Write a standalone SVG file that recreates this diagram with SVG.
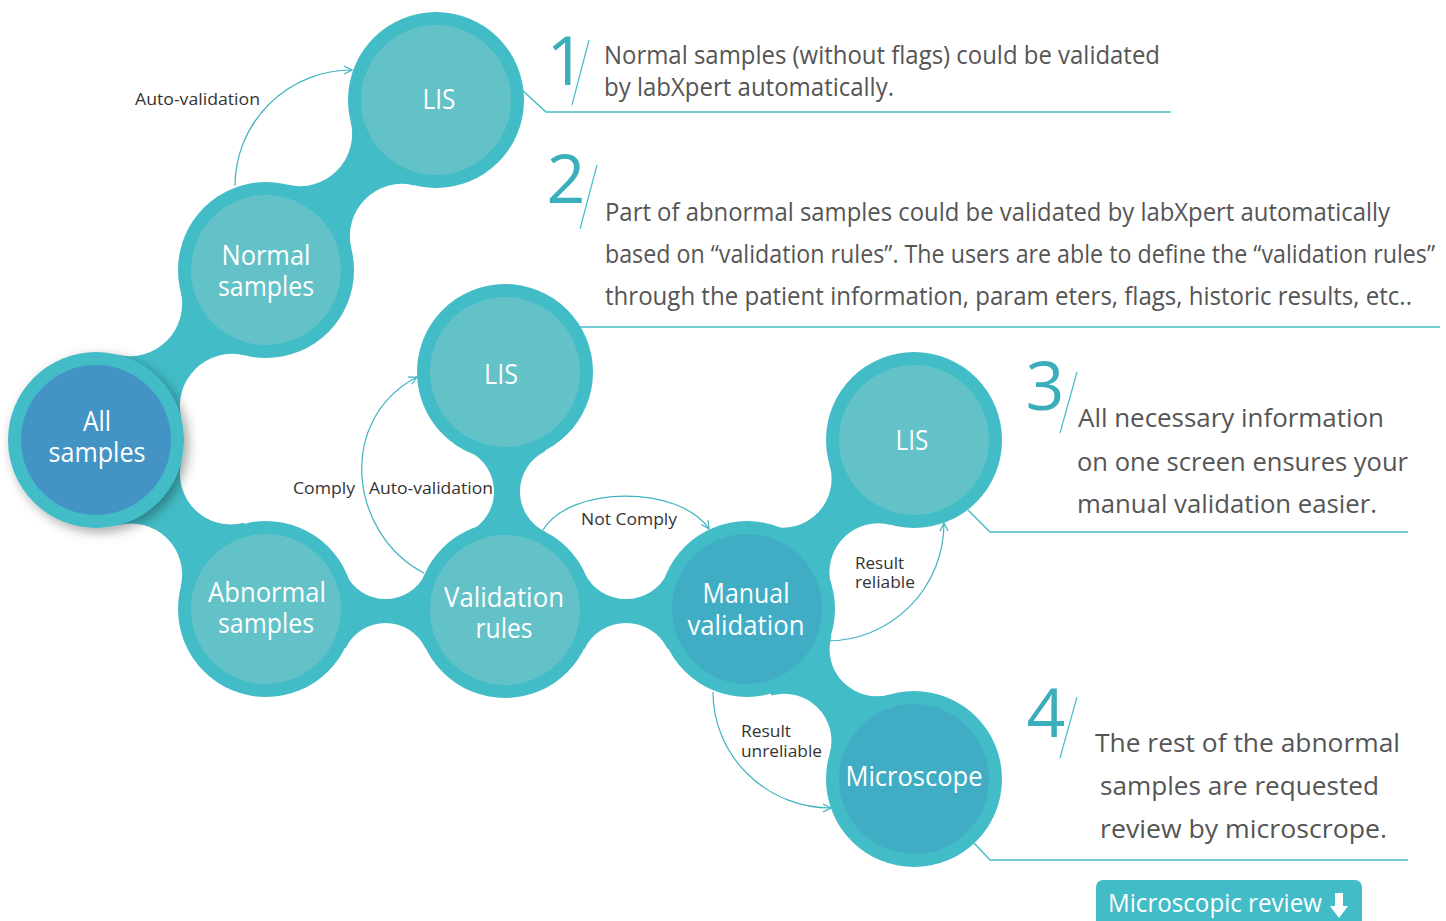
<svg xmlns="http://www.w3.org/2000/svg" width="1446" height="921" viewBox="0 0 1446 921">
<defs>
<style>
.ring{fill:#42bcc7}
.neck{fill:#42bcc7}
.inL{fill:#63c2c7}
.inD{fill:#40adc4}
.inB{fill:#4394c4}
.nt{font-family:"Open Sans","Noto Sans",sans-serif;font-size:27px;fill:#ffffff;text-anchor:middle}
.el{font-family:"Open Sans","Noto Sans",sans-serif;font-size:17px;fill:#333333}
.bt{font-family:"Open Sans","Noto Sans",sans-serif;font-size:25px;fill:#555555}
.bt3{font-family:"Open Sans","Noto Sans",sans-serif;font-size:26px;fill:#555555}
.num{font-family:"Open Sans","Noto Sans",sans-serif;font-size:68px;fill:#3aaeba;text-anchor:middle}
.arr{fill:none;stroke:#3fb3c0;stroke-width:1.2}
.co{fill:none;stroke:#47bdc8;stroke-width:1.5}
.sl{fill:none;stroke:#47bdc8;stroke-width:1.2}
</style>
<marker id="ah" viewBox="0 0 10 10" refX="9" refY="5" markerWidth="10" markerHeight="10" markerUnits="userSpaceOnUse" orient="auto">
<path d="M1,1 L9,5 L1,9" fill="none" stroke="#3fb3c0" stroke-width="1.2"/>
</marker>
<filter id="sh" x="-30%" y="-30%" width="160%" height="160%">
<feDropShadow dx="4" dy="4" stdDeviation="6" flood-color="#000000" flood-opacity="0.35"/>
</filter>
</defs>
<rect width="1446" height="921" fill="#ffffff"/>

<g id="necks">
<path class="neck" d="M266,270 L351.40,248.72 A52.25,52.25 0 0 1 414.72,185.40 L436,100 L350.60,121.28 A52.25,52.25 0 0 1 287.28,184.60 Z"/>
<path class="neck" d="M96,440 L181.40,418.72 A52.25,52.25 0 0 1 244.72,355.40 L266,270 L180.60,291.28 A52.25,52.25 0 0 1 117.28,354.60 Z"/>
<path class="neck" d="M96,440 L118.22,525.15 A51,51 0 0 1 180.59,586.79 L266,608 L243.78,522.85 A51,51 0 0 1 181.41,461.21 Z"/>
<path class="neck" d="M266,611 L345.69,648.31 A43.95,43.95 0 0 1 425.31,648.31 L505,611 L425.31,573.69 A43.95,43.95 0 0 1 345.69,573.69 Z"/>
<path class="neck" d="M505,611 L584.28,649.21 A46.32,46.32 0 0 1 667.72,649.21 L747,611 L667.72,572.79 A46.32,46.32 0 0 1 584.28,572.79 Z"/>
<path class="neck" d="M507,611 L545.26,531.76 A44.7,44.7 0 0 1 545.26,451.24 L507,372 L468.74,451.24 A44.7,44.7 0 0 1 468.74,531.76 Z"/>
<path class="neck" d="M747,611 L831.42,586.17 A49.02,49.02 0 0 1 891.17,524.98 L914,440 L829.58,464.83 A49.02,49.02 0 0 1 769.83,526.02 Z"/>
<path class="neck" d="M747,611 L771.25,695.60 A47.2,47.2 0 0 1 829.55,754.25 L914,779 L889.75,694.40 A47.2,47.2 0 0 1 831.45,635.75 Z"/>
</g>

<g id="node-lis-top">
<circle class="ring" cx="436" cy="100" r="88"/>
<circle class="inL" cx="436" cy="100" r="75"/>
<text class="nt" x="439" y="109" textLength="33" lengthAdjust="spacingAndGlyphs">LIS</text>
</g>
<g id="node-normal">
<circle class="ring" cx="266" cy="270" r="88"/>
<circle class="inL" cx="266" cy="270" r="75"/>
<text class="nt" x="266" y="265" textLength="89" lengthAdjust="spacingAndGlyphs">Normal</text>
<text class="nt" x="266" y="296" textLength="96" lengthAdjust="spacingAndGlyphs">samples</text>
</g>
<g id="node-all">
<circle class="ring" cx="96" cy="440" r="88" filter="url(#sh)"/>
<circle class="inB" cx="96" cy="440" r="75"/>
<text class="nt" x="97" y="431" textLength="28" lengthAdjust="spacingAndGlyphs">All</text>
<text class="nt" x="97" y="462" textLength="97" lengthAdjust="spacingAndGlyphs">samples</text>
</g>
<g id="node-abnormal">
<circle class="ring" cx="266" cy="609" r="88"/>
<circle class="inL" cx="266" cy="609" r="75"/>
<text class="nt" x="267" y="602" textLength="118" lengthAdjust="spacingAndGlyphs">Abnormal</text>
<text class="nt" x="266" y="633" textLength="96" lengthAdjust="spacingAndGlyphs">samples</text>
</g>
<g id="node-lis-mid">
<circle class="ring" cx="505" cy="372" r="88"/>
<circle class="inL" cx="505" cy="372" r="75"/>
<text class="nt" x="501" y="384" textLength="34" lengthAdjust="spacingAndGlyphs">LIS</text>
</g>
<g id="node-validation">
<circle class="ring" cx="505" cy="610" r="88"/>
<circle class="inL" cx="505" cy="610" r="75"/>
<text class="nt" x="504" y="607" textLength="120" lengthAdjust="spacingAndGlyphs">Validation</text>
<text class="nt" x="504" y="638" textLength="57" lengthAdjust="spacingAndGlyphs">rules</text>
</g>
<g id="node-manual">
<circle class="ring" cx="747" cy="609" r="88"/>
<circle class="inD" cx="747" cy="609" r="75"/>
<text class="nt" x="746" y="603" textLength="87" lengthAdjust="spacingAndGlyphs">Manual</text>
<text class="nt" x="746" y="635" textLength="117" lengthAdjust="spacingAndGlyphs">validation</text>
</g>
<g id="node-lis-right">
<circle class="ring" cx="914" cy="440" r="88"/>
<circle class="inL" cx="914" cy="440" r="75"/>
<text class="nt" x="912" y="450" textLength="33" lengthAdjust="spacingAndGlyphs">LIS</text>
</g>
<g id="node-microscope">
<circle class="ring" cx="914" cy="779" r="88"/>
<circle class="inD" cx="914" cy="779" r="75"/>
<text class="nt" x="914" y="786" textLength="137" lengthAdjust="spacingAndGlyphs">Microscope</text>
</g>

<g id="connectors">
<path class="arr" d="M235,186 A117,116 0 0 1 352,70" marker-end="url(#ah)"/>
<path class="arr" d="M424,573 C350,535 335,420 417,377" marker-end="url(#ah)"/>
<path class="arr" d="M543,530 C570,485 680,485 709,529" marker-end="url(#ah)"/>
<path class="arr" d="M827,641 A117,118 0 0 0 944,523" marker-end="url(#ah)"/>
<path class="arr" d="M713,692 A118,116 0 0 0 831,808" marker-end="url(#ah)"/>
<text class="el" x="135" y="105" textLength="125" lengthAdjust="spacingAndGlyphs">Auto-validation</text>
<text class="el" x="293" y="494" textLength="62" lengthAdjust="spacingAndGlyphs">Comply</text>
<text class="el" x="369" y="494" textLength="124" lengthAdjust="spacingAndGlyphs">Auto-validation</text>
<text class="el" x="581" y="525" textLength="96" lengthAdjust="spacingAndGlyphs">Not Comply</text>
<text class="el" x="855" y="569" textLength="49" lengthAdjust="spacingAndGlyphs">Result</text>
<text class="el" x="855" y="588" textLength="60" lengthAdjust="spacingAndGlyphs">reliable</text>
<text class="el" x="741" y="737" textLength="50" lengthAdjust="spacingAndGlyphs">Result</text>
<text class="el" x="741" y="757" textLength="81" lengthAdjust="spacingAndGlyphs">unreliable</text>
</g>

<g id="callout-1">
<polyline class="co" points="522,90 546,112 1171,112"/>
<text class="num" x="566" y="85">1</text>
<line class="sl" x1="589" y1="40" x2="572" y2="105"/>
<text class="bt" x="604" y="64" textLength="556" lengthAdjust="spacingAndGlyphs">Normal samples (without flags) could be validated</text>
<text class="bt" x="604" y="96" textLength="290" lengthAdjust="spacingAndGlyphs">by labXpert automatically.</text>
</g>
<g id="callout-2">
<line class="co" x1="580" y1="327" x2="1440" y2="327"/>
<text class="num" x="566" y="203">2</text>
<line class="sl" x1="597" y1="165" x2="580" y2="229"/>
<text class="bt" x="605" y="221" textLength="785" lengthAdjust="spacingAndGlyphs">Part of abnormal samples could be validated by labXpert automatically</text>
<text class="bt" x="605" y="263" textLength="830" lengthAdjust="spacingAndGlyphs">based on “validation rules”. The users are able to define the “validation rules”</text>
<text class="bt" x="605" y="305" textLength="807" lengthAdjust="spacingAndGlyphs">through the patient information, param eters, flags, historic results, etc..</text>
</g>
<g id="callout-3">
<polyline class="co" points="968,510 990,532 1408,532"/>
<text class="num" x="1045" y="410">3</text>
<line class="sl" x1="1077" y1="372" x2="1060" y2="433"/>
<text class="bt3" x="1078" y="427" textLength="306" lengthAdjust="spacingAndGlyphs">All necessary information</text>
<text class="bt3" x="1077" y="471" textLength="331" lengthAdjust="spacingAndGlyphs">on one screen ensures your</text>
<text class="bt3" x="1077" y="513" textLength="300" lengthAdjust="spacingAndGlyphs">manual validation easier.</text>
</g>
<g id="callout-4">
<polyline class="co" points="974,843 990,860 1408,860"/>
<text class="num" x="1046" y="737">4</text>
<line class="sl" x1="1077" y1="697" x2="1060" y2="758"/>
<text class="bt3" x="1095" y="752" textLength="305" lengthAdjust="spacingAndGlyphs">The rest of the abnormal</text>
<text class="bt3" x="1100" y="795" textLength="279" lengthAdjust="spacingAndGlyphs">samples are requested</text>
<text class="bt3" x="1100" y="838" textLength="287" lengthAdjust="spacingAndGlyphs">review by microscrope.</text>
</g>
<g id="button-microscopic-review">
<rect x="1096" y="880" width="266" height="52" rx="7" fill="#42bcc7"/>
<text x="1108" y="912" font-family="Open Sans, Noto Sans, sans-serif" font-size="25" fill="#ffffff" textLength="214" lengthAdjust="spacingAndGlyphs">Microscopic review</text>
<path d="M1335,893 H1343 V906 H1348 L1339,918 L1330,906 H1335 Z" fill="#ffffff"/>
</g>
</svg>
